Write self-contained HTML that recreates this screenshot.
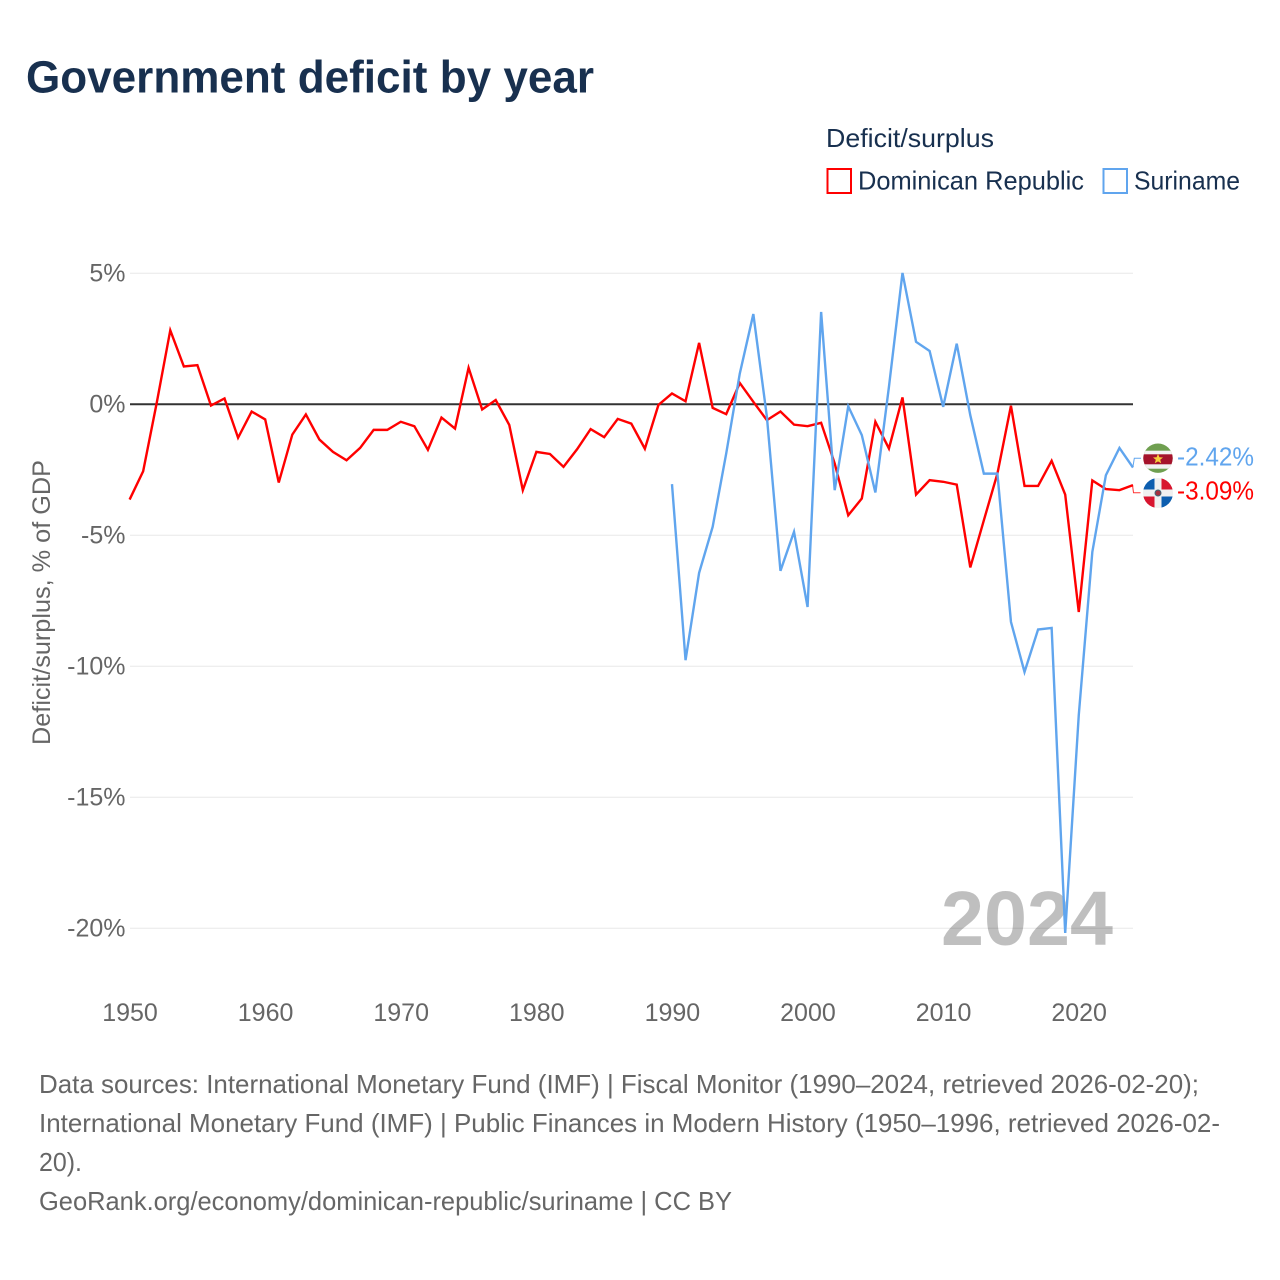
<!DOCTYPE html>
<html lang="en">
<head>
<meta charset="utf-8">
<title>Government deficit by year</title>
<style>
html,body{margin:0;padding:0;background:#fff;width:1280px;height:1280px;overflow:hidden}
svg{display:block}
text{font-family:"Liberation Sans",sans-serif}
</style>
</head>
<body>
<svg id="chart" xmlns="http://www.w3.org/2000/svg" width="1280" height="1280" viewBox="0 0 1280 1280">
  <defs>
    <clipPath id="clip-sr"><circle cx="1158" cy="458.2" r="14.7"/></clipPath>
    <clipPath id="clip-do"><circle cx="1158" cy="493" r="15"/></clipPath>
  </defs>
  <rect x="0" y="0" width="1280" height="1280" fill="#fff"/>
  <text x="26" y="92.5" font-size="45" font-weight="700" fill="#18304f" textLength="568" lengthAdjust="spacingAndGlyphs">Government deficit by year</text>

  <g>
    <text x="826" y="147" font-size="26" fill="#18304f" textLength="168" lengthAdjust="spacingAndGlyphs">Deficit/surplus</text>
    <rect x="827.5" y="169" width="23.5" height="24" fill="#fff" stroke="#ff0000" stroke-width="2"/>
    <text x="858" y="189.500" font-size="26" fill="#18304f" textLength="226" lengthAdjust="spacingAndGlyphs">Dominican Republic</text>
    <rect x="1103.500" y="169" width="23.5" height="24" fill="#fff" stroke="#60a5ee" stroke-width="2"/>
    <text x="1134" y="189.500" font-size="26" fill="#18304f" textLength="106" lengthAdjust="spacingAndGlyphs">Suriname</text>
  </g>

  <g id="grid"></g>
  <g id="y-ticks"></g>
  <g id="x-ticks"></g>
  <text transform="translate(50,602.5) rotate(-90)" text-anchor="middle" font-size="25" fill="#666" textLength="285" lengthAdjust="spacingAndGlyphs">Deficit/surplus, % of GDP</text>

  <text x="941" y="945" font-size="77" font-weight="700" fill="#000" fill-opacity="0.25" textLength="172" lengthAdjust="spacingAndGlyphs">2024</text>

  <g id="series"></g>

  <polyline points="1133,466.500 1134.300,458.300 1141,458.300" fill="none" stroke="#60a5ee" stroke-width="1"/>
  <polyline points="1132.500,485 1133.500,492.700 1140.500,492.700" fill="none" stroke="#ff0000" stroke-width="1" stroke-opacity="0.8"/>

  <g clip-path="url(#clip-sr)">
    <rect x="1143" y="443" width="30" height="30" fill="#6f9f50"/>
    <rect x="1143" y="450.700" width="30" height="18" fill="#f2f2f2"/>
    <rect x="1143" y="454.300" width="30" height="10" fill="#a5132b"/>
    <polygon points="1158,453.800 1159.400,457.300 1163,457.500 1160.200,459.800 1161.200,463.300 1158,461.400 1154.800,463.300 1155.800,459.800 1153,457.500 1156.600,457.300" fill="#f7cf3c"/>
  </g>
  <g clip-path="url(#clip-do)">
    <rect x="1143" y="478" width="30" height="30" fill="#f0f0f0"/>
    <rect x="1143" y="478" width="11.500" height="11.500" fill="#0d5eaf"/>
    <rect x="1161.500" y="478" width="11.500" height="11.500" fill="#d8152f"/>
    <rect x="1143" y="496.500" width="11.500" height="11.500" fill="#d8152f"/>
    <rect x="1161.500" y="496.500" width="11.500" height="11.500" fill="#0d5eaf"/>
    <circle cx="1158" cy="493" r="3" fill="#a5303f" stroke="#3d6a7a" stroke-width="1"/>
  </g>

  <text x="1177" y="465.500" font-size="26" fill="#60a5ee" textLength="77" lengthAdjust="spacingAndGlyphs">-2.42%</text>
  <text x="1177" y="499.500" font-size="26" fill="#ff0000" textLength="77" lengthAdjust="spacingAndGlyphs">-3.09%</text>

  <g font-size="26" fill="#666">
    <text x="39" y="1093" textLength="1160" lengthAdjust="spacingAndGlyphs">Data sources: International Monetary Fund (IMF) | Fiscal Monitor (1990–2024, retrieved 2026-02-20);</text>
    <text x="39" y="1132" textLength="1181" lengthAdjust="spacingAndGlyphs">International Monetary Fund (IMF) | Public Finances in Modern History (1950–1996, retrieved 2026-02-</text>
    <text x="39" y="1171" textLength="43" lengthAdjust="spacingAndGlyphs">20).</text>
    <text x="39" y="1210" textLength="693" lengthAdjust="spacingAndGlyphs">GeoRank.org/economy/dominican-republic/suriname | CC BY</text>
  </g>
</svg>
<script>
const years = [1950,1951,1952,1953,1954,1955,1956,1957,1958,1959,1960,1961,1962,1963,1964,1965,1966,1967,1968,1969,1970,1971,1972,1973,1974,1975,1976,1977,1978,1979,1980,1981,1982,1983,1984,1985,1986,1987,1988,1989,1990,1991,1992,1993,1994,1995,1996,1997,1998,1999,2000,2001,2002,2003,2004,2005,2006,2007,2008,2009,2010,2011,2012,2013,2014,2015,2016,2017,2018,2019,2020,2021,2022,2023,2024];
const dominicanRepublic = [-3.64,-2.56,0.05,2.82,1.44,1.49,-0.05,0.22,-1.28,-0.28,-0.58,-2.99,-1.16,-0.39,-1.35,-1.82,-2.14,-1.67,-0.98,-0.98,-0.67,-0.84,-1.74,-0.51,-0.93,1.39,-0.2,0.16,-0.79,-3.28,-1.82,-1.9,-2.39,-1.72,-0.95,-1.26,-0.56,-0.74,-1.7,-0.03,0.41,0.11,2.34,-0.14,-0.38,0.81,0.09,-0.61,-0.28,-0.78,-0.84,-0.71,-2.26,-4.24,-3.6,-0.67,-1.69,0.26,-3.45,-2.9,-2.96,-3.07,-6.23,-4.43,-2.65,-0.06,-3.12,-3.12,-2.16,-3.45,-7.93,-2.91,-3.24,-3.28,-3.09];
const surinameYears = [1990,1991,1992,1993,1994,1995,1996,1997,1998,1999,2000,2001,2002,2003,2004,2005,2006,2007,2008,2009,2010,2011,2012,2013,2014,2015,2016,2017,2018,2019,2020,2021,2022,2023,2024];
const suriname = [-3.05,-9.77,-6.44,-4.68,-1.88,1.17,3.44,-0.48,-6.36,-4.87,-7.74,3.52,-3.28,-0.08,-1.18,-3.37,0.66,5.01,2.38,2.03,-0.1,2.31,-0.42,-2.65,-2.65,-8.31,-10.22,-8.6,-8.54,-20.18,-11.87,-5.64,-2.71,-1.67,-2.42];
const yTickValues = [5,0,-5,-10,-15,-20];
const yTickLabels = ['5%','0%','-5%','-10%','-15%','-20%'];
const xTickValues = [1950,1960,1970,1980,1990,2000,2010,2020];

const NS = 'http://www.w3.org/2000/svg';
function xScale(year){ return 129.6 + (year - 1950) * (1003.4 / 74); }
function yScale(value){ return 404.2 - value * 26.2; }
function svgEl(tag){ return document.createElementNS(NS, tag); }

const gridGroup = document.getElementById('grid');
const yTickGroup = document.getElementById('y-ticks');
const xTickGroup = document.getElementById('x-ticks');
const seriesGroup = document.getElementById('series');

yTickValues.forEach(function(v, i){
  const line = svgEl('line');
  
  
  line.setAttribute('x1', 130);
  line.setAttribute('x2', 1133);
  line.setAttribute('y1', yScale(v));
  line.setAttribute('y2', yScale(v));
  line.setAttribute('stroke', v === 0 ? '#333' : '#e8e8e8');
  line.setAttribute('stroke-width', v === 0 ? 2 : 1);
  gridGroup.appendChild(line);

  const label = svgEl('text');
  
  
  label.setAttribute('x', 125.5);
  label.setAttribute('y', yScale(v) + 8.5);
  label.setAttribute('text-anchor', 'end');
  label.setAttribute('font-size', 25);
  label.setAttribute('fill', '#666');
  label.textContent = yTickLabels[i];
  yTickGroup.appendChild(label);
});

xTickValues.forEach(function(year){
  const label = svgEl('text');
  
  
  label.setAttribute('x', xScale(year) + 0.4);
  label.setAttribute('y', 1021);
  label.setAttribute('text-anchor', 'middle');
  label.setAttribute('font-size', 25);
  label.setAttribute('fill', '#666');
  label.textContent = String(year);
  xTickGroup.appendChild(label);
});

function pointsFor(xs, ys){
  return xs.map(function(year, i){
    return xScale(year).toFixed(2) + ',' + yScale(ys[i]).toFixed(2);
  }).join(' ');
}

const drLine = svgEl('polyline');


drLine.setAttribute('points', pointsFor(years, dominicanRepublic));
drLine.setAttribute('fill', 'none');
drLine.setAttribute('stroke', '#ff0000');
drLine.setAttribute('stroke-width', 2.4);
drLine.setAttribute('stroke-linejoin', 'miter');
seriesGroup.appendChild(drLine);

const srLine = svgEl('polyline');


srLine.setAttribute('points', pointsFor(surinameYears, suriname));
srLine.setAttribute('fill', 'none');
srLine.setAttribute('stroke', '#60a5ee');
srLine.setAttribute('stroke-width', 2.4);
srLine.setAttribute('stroke-linejoin', 'miter');
seriesGroup.appendChild(srLine);
</script>
</body>
</html>
